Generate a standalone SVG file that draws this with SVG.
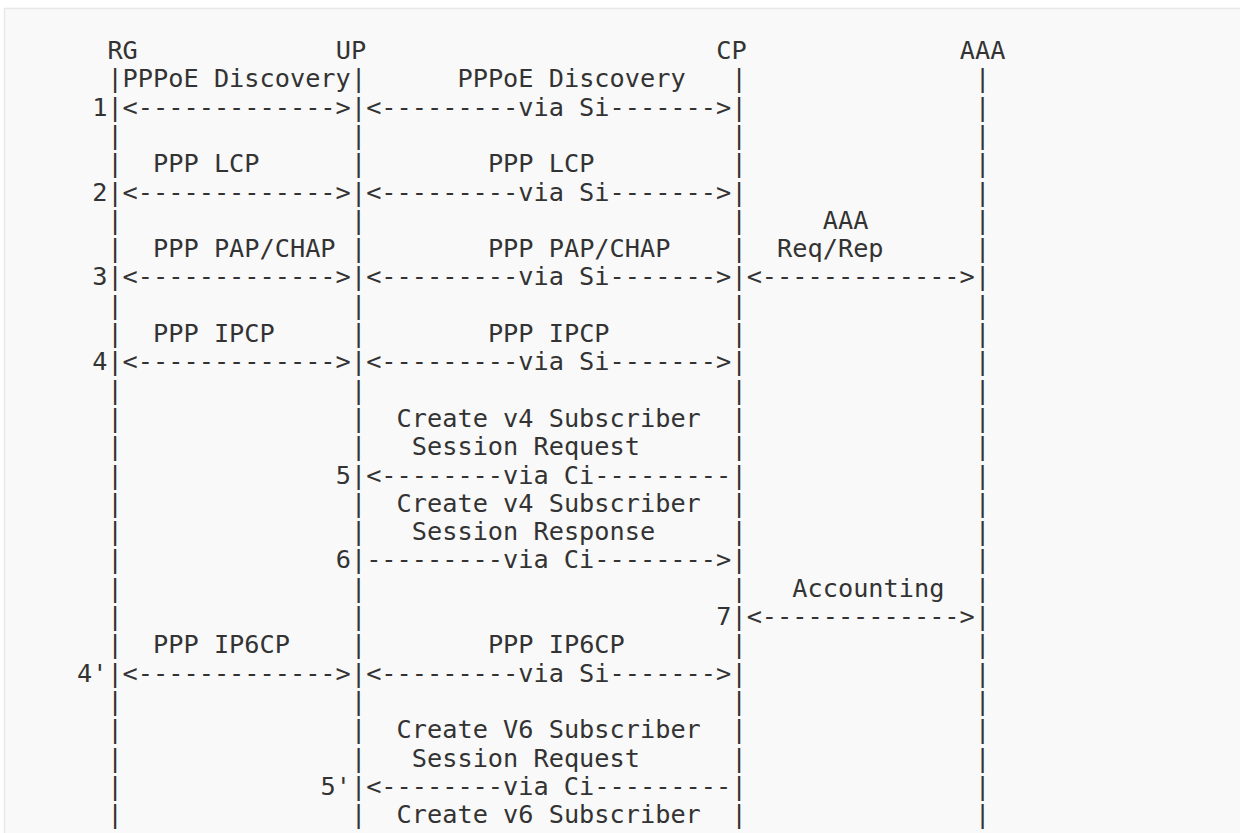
<svg xmlns="http://www.w3.org/2000/svg" width="1240" height="833" viewBox="0 0 1240 833">
<style>
text { font-family: "DejaVu Sans Mono", "Liberation Mono", monospace; font-size: 25.28px; fill: #333333; white-space: pre; }
</style>
<rect width="1240" height="833" fill="#ffffff"/>
<rect x="4.5" y="8.5" width="1240" height="840" fill="#f9f9f9" stroke="#e8e8e8" stroke-width="1.5"/>
<g id="nodes">
  <g id="node-RG"><text x="107.40" y="59">RG</text></g>
  <g id="node-UP"><text x="335.70" y="59">UP</text></g>
  <g id="node-CP"><text x="716.20" y="59">CP</text></g>
  <g id="node-AAA"><text x="959.72" y="59">AAA</text></g>
</g>
<g id="lifelines">
  <text x="107.40 107.40 107.40 107.40 107.40 107.40 107.40 107.40 107.40 107.40 107.40 107.40 107.40 107.40 107.40 107.40 107.40 107.40 107.40 107.40 107.40 107.40 107.40 107.40 107.40 107.40 107.40" y="87.3 115.6 143.9 172.2 200.5 228.8 257.1 285.4 313.7 342.0 370.3 398.6 426.9 455.2 483.5 511.8 540.1 568.4 596.7 625.0 653.3 681.6 709.9 738.2 766.5 794.8 823.1">|||||||||||||||||||||||||||</text>
  <text x="350.92 350.92 350.92 350.92 350.92 350.92 350.92 350.92 350.92 350.92 350.92 350.92 350.92 350.92 350.92 350.92 350.92 350.92 350.92 350.92 350.92 350.92 350.92 350.92 350.92 350.92 350.92" y="87.3 115.6 143.9 172.2 200.5 228.8 257.1 285.4 313.7 342.0 370.3 398.6 426.9 455.2 483.5 511.8 540.1 568.4 596.7 625.0 653.3 681.6 709.9 738.2 766.5 794.8 823.1">|||||||||||||||||||||||||||</text>
  <text x="731.42 731.42 731.42 731.42 731.42 731.42 731.42 731.42 731.42 731.42 731.42 731.42 731.42 731.42 731.42 731.42 731.42 731.42 731.42 731.42 731.42 731.42 731.42 731.42 731.42 731.42 731.42" y="87.3 115.6 143.9 172.2 200.5 228.8 257.1 285.4 313.7 342.0 370.3 398.6 426.9 455.2 483.5 511.8 540.1 568.4 596.7 625.0 653.3 681.6 709.9 738.2 766.5 794.8 823.1">|||||||||||||||||||||||||||</text>
  <text x="974.94 974.94 974.94 974.94 974.94 974.94 974.94 974.94 974.94 974.94 974.94 974.94 974.94 974.94 974.94 974.94 974.94 974.94 974.94 974.94 974.94 974.94 974.94 974.94 974.94 974.94 974.94" y="87.3 115.6 143.9 172.2 200.5 228.8 257.1 285.4 313.7 342.0 370.3 398.6 426.9 455.2 483.5 511.8 540.1 568.4 596.7 625.0 653.3 681.6 709.9 738.2 766.5 794.8 823.1">|||||||||||||||||||||||||||</text>
</g>
<g id="connectors">
  <text x="122.62" y="115.6">&lt;-------------&gt;</text>
  <text x="366.14" y="115.6">&lt;---------via Si-------&gt;</text>
  <text x="122.62" y="200.5">&lt;-------------&gt;</text>
  <text x="366.14" y="200.5">&lt;---------via Si-------&gt;</text>
  <text x="122.62" y="285.4">&lt;-------------&gt;</text>
  <text x="366.14" y="285.4">&lt;---------via Si-------&gt;</text>
  <text x="746.64" y="285.4">&lt;-------------&gt;</text>
  <text x="122.62" y="370.3">&lt;-------------&gt;</text>
  <text x="366.14" y="370.3">&lt;---------via Si-------&gt;</text>
  <text x="366.14" y="483.5">&lt;--------via Ci---------</text>
  <text x="366.14" y="568.4">---------via Ci--------&gt;</text>
  <text x="746.64" y="625.0">&lt;-------------&gt;</text>
  <text x="122.62" y="681.6">&lt;-------------&gt;</text>
  <text x="366.14" y="681.6">&lt;---------via Si-------&gt;</text>
  <text x="366.14" y="794.8">&lt;--------via Ci---------</text>
</g>
<g id="steps">
  <text x="92.18" y="115.6">1</text>
  <text x="92.18" y="200.5">2</text>
  <text x="92.18" y="285.4">3</text>
  <text x="92.18" y="370.3">4</text>
  <text x="335.70" y="483.5">5</text>
  <text x="335.70" y="568.4">6</text>
  <text x="716.20" y="625.0">7</text>
  <text x="76.96" y="681.6">4'</text>
  <text x="320.48" y="794.8">5'</text>
</g>
<g id="labels">
  <text x="122.62" y="87.3">PPPoE Discovery</text>
  <text x="457.46" y="87.3">PPPoE Discovery</text>
  <text x="153.06" y="172.2">PPP LCP</text>
  <text x="487.90" y="172.2">PPP LCP</text>
  <text x="822.74" y="228.8">AAA</text>
  <text x="153.06" y="257.1">PPP PAP/CHAP</text>
  <text x="487.90" y="257.1">PPP PAP/CHAP</text>
  <text x="777.08" y="257.1">Req/Rep</text>
  <text x="153.06" y="342.0">PPP IPCP</text>
  <text x="487.90" y="342.0">PPP IPCP</text>
  <text x="396.58" y="426.9">Create v4 Subscriber</text>
  <text x="411.80" y="455.2">Session Request</text>
  <text x="396.58" y="511.8">Create v4 Subscriber</text>
  <text x="411.80" y="540.1">Session Response</text>
  <text x="792.30" y="596.7">Accounting</text>
  <text x="153.06" y="653.3">PPP IP6CP</text>
  <text x="487.90" y="653.3">PPP IP6CP</text>
  <text x="396.58" y="738.2">Create V6 Subscriber</text>
  <text x="411.80" y="766.5">Session Request</text>
  <text x="396.58" y="823.1">Create v6 Subscriber</text>
</g>
</svg>
